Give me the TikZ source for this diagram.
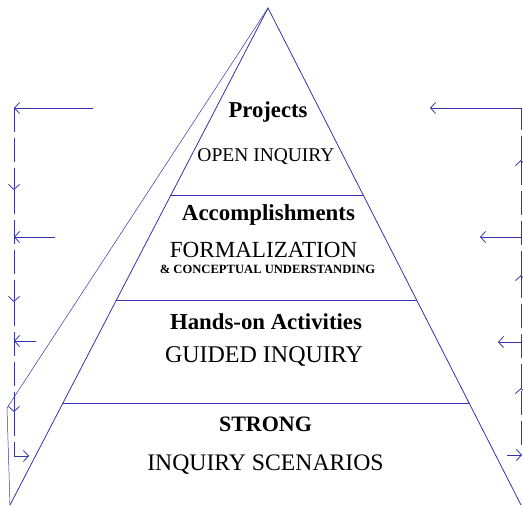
\documentclass[tikz,border=0pt]{standalone}
\usepackage{fontspec}
\setmainfont{Liberation Serif}
\usetikzlibrary{arrows.meta,calc}
\definecolor{penblue}{RGB}{52,52,172}
\tikzset{
  edge/.style={draw=penblue, line width=0.8pt},
  feed/.style={draw=penblue, line width=0.8pt, dash pattern=on 24pt off 6pt},
  tip/.style={-{Straight Barb[length=5pt,width=11pt]}},
  head/.style={anchor=base, inner sep=0pt, font=\bfseries\fontsize{#1}{#1}\selectfont},
  sub/.style={anchor=base, inner sep=0pt, font=\fontsize{#1}{#1}\selectfont}
}

\begin{document}
\begin{tikzpicture}[x=1pt,y=-1pt]
	\useasboundingbox (0,0) rectangle (523,507);
	\coordinate (apex) at (268,8);
	\coordinate (bl) at (10,505);
	\coordinate (br) at (521,505);
	\coordinate (fold) at (7,408);
	\draw [edge] (bl) -- (apex) -- (br);
	\draw [edge, line width=0.5pt] (apex) -- (fold) -- (bl);
	\draw [edge] ($(apex)!0.378!(bl)$) -- ($(apex)!0.378!(br)$);
	\draw [edge] ($(apex)!0.5875!(bl)$) -- ($(apex)!0.5875!(br)$);
	\draw [edge] ($(apex)!0.795!(bl)$) -- ($(apex)!0.795!(br)$);

	\node [head=22.7] (proj) at (268,117) {Projects};
	\node [sub=19.5] (open) at (266,161) {OPEN INQUIRY};
	\node [head=22.9] (acc) at (268.5,220) {Accomplishments};
	\node [sub=23.1] (form) at (263.5,257) {FORMALIZATION};
	\node [head=12.6] (conc) at (267.5,273) {\&\ CONCEPTUAL UNDERSTANDING};
	\node [head=22.8] (hands) at (266,329) {Hands-on Activities};
	\node [sub=24] (guid) at (264,362) {GUIDED INQUIRY};
	\node [head=22] (strong) at (265.5,431) {STRONG};
	\node [sub=23.7] (scen) at (265.5,470) {INQUIRY SCENARIOS};

	\coordinate (l0) at (14,108);
	\coordinate (l1) at (14,190);
	\coordinate (l2) at (14,302);
	\coordinate (l3) at (14,412);
	\coordinate (l4) at (14,456);
	\coordinate (l5) at (29,456);
	\coordinate (la) at (93,108);
	\coordinate (lb) at (55,237);
	\coordinate (lb') at (14,237);
	\coordinate (lc) at (36,341);
	\coordinate (lc') at (14,341);
	\draw [edge, tip] (la) -- (l0);
	\draw [edge, tip] (lb) -- (lb');
	\draw [edge, tip] (lc) -- (lc');
	\draw [feed, tip] (l0) -- (l1);
	\draw [feed, tip] (l1) -- (l2);
	\draw [feed, tip] (l2) -- (l3);
	\draw [feed] (l3) -- (l4);
	\draw [edge, tip] (l4) -- (l5);

	\coordinate (r0) at (521,108);
	\coordinate (r1) at (521,160);
	\coordinate (r2) at (521,275);
	\coordinate (r3) at (521,388);
	\coordinate (r4) at (521,445);
	\coordinate (r5) at (507,455);
	\coordinate (r5') at (522,455);
	\coordinate (ra) at (430,108);
	\coordinate (rb) at (480,237);
	\coordinate (rb') at (521,237);
	\coordinate (rc) at (498,342);
	\coordinate (rc') at (521,342);
	\draw [edge, tip] (r0) -- (ra);
	\draw [edge, tip] (rb') -- (rb);
	\draw [edge, tip] (rc') -- (rc);
	\draw [feed, tip] (r4) -- (r3);
	\draw [feed, tip] (r3) -- (r2);
	\draw [feed, tip] (r2) -- (r1);
	\draw [feed] (r1) -- (r0);
	\draw [edge, tip] (r5) -- (r5');
\end{tikzpicture}
\end{document}
